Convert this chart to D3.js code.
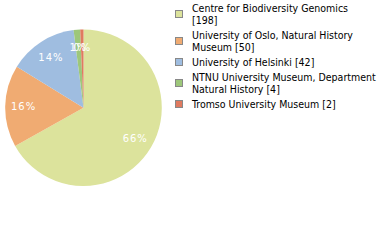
<!DOCTYPE html>
<html>
<head>
<meta charset="utf-8">
<script src="https://cdn.jsdelivr.net/npm/d3@7"></script>
<style>
  body { margin: 0; background: #fff; }
  svg { display: block; }
</style>
</head>
<body>
<svg id="chart" width="380" height="240"></svg>
<script>
// data
const institutions = [
  "Centre for Biodiversity Genomics",
  "University of Oslo, Natural History Museum",
  "University of Helsinki",
  "NTNU University Museum, Department Natural History",
  "Tromso University Museum"
];
const counts = [198, 50, 42, 4, 2];
const colours = ["#dce39c", "#f0ab72", "#9fbde0", "#9dc77a", "#e07a5f"];
// legend line breaks as in the reference
const legendLines = [
  ["Centre for Biodiversity Genomics", "[198]"],
  ["University of Oslo, Natural History", "Museum [50]"],
  ["University of Helsinki [42]"],
  ["NTNU University Museum, Department", "Natural History [4]"],
  ["Tromso University Museum [2]"]
];

const svg = d3.select("#chart");
const total = d3.sum(counts);
const rows = institutions.map((name, i) => ({name, n: counts[i], c: colours[i], lines: legendLines[i]}));

// pie
const cx = 83.5, cy = 107.7, r = 78.3;
const pie = d3.pie().value(d => d.n).sort(null);
const arc = d3.arc().innerRadius(0).outerRadius(r);
const labelArc = d3.arc().innerRadius(60).outerRadius(60);

const g = svg.append("g").attr("transform", `translate(${cx},${cy})`);
const slices = pie(rows);

g.selectAll("path")
  .data(slices)
  .join("path")
  .attr("d", arc)
  .attr("fill", d => d.data.c);

g.selectAll("text")
  .data(slices)
  .join("text")
  .attr("transform", d => `translate(${labelArc.centroid(d)})`)
  .attr("text-anchor", "middle")
  .attr("dy", "0.35em")
  .attr("fill", "#fff")
  .style("font-family", "DejaVu Sans")
  .style("font-size", "10px")
  .style("letter-spacing", "1px")
  .text(d => Math.floor(100 * d.data.n / total) + "%");

// legend
const lg = svg.append("g").attr("transform", "translate(175,0)");
const lineH = 12, gap = 3;
let y = 2;

rows.forEach(d => {
  const item = lg.append("g");
  const txt = item.append("text")
    .attr("transform", `translate(0,${y + 9.5})`)
    .style("font-family", "DejaVu Sans Condensed")
    .style("font-size", "10.5px")
    .attr("fill", "#000");
  txt.selectAll("tspan")
    .data(d.lines)
    .join("tspan")
    .attr("x", 17)
    .attr("y", (s, i) => i * lineH)
    .text(s => s);

  const h = d.lines.length * lineH;
  item.append("rect")
    .attr("x", 0.5)
    .attr("y", y + h / 2 - 3.5)
    .attr("width", 7)
    .attr("height", 7)
    .attr("fill", d.c)
    .attr("stroke", "#888")
    .attr("stroke-width", 1);
  y += h + gap;
});
</script>
</body>
</html>
